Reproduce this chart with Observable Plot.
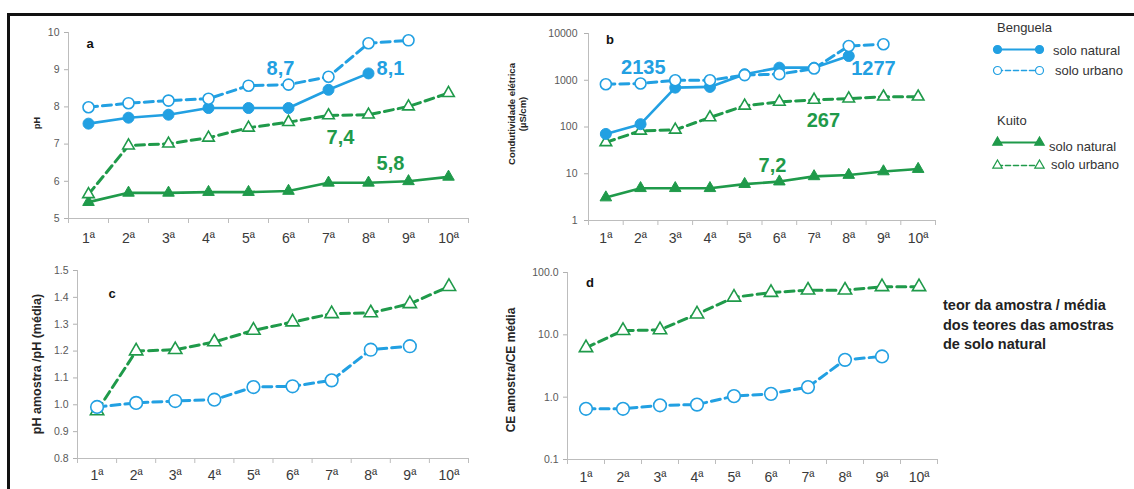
<!DOCTYPE html>
<html><head><meta charset="utf-8">
<script src="https://cdn.jsdelivr.net/npm/d3@7"></script>
<script src="https://cdn.jsdelivr.net/npm/@observablehq/plot@0.6"></script>
<style>
html,body{margin:0;padding:0;background:#fff;}
#root{position:relative;width:1134px;height:489px;overflow:hidden;font-family:"Liberation Sans",Arial,sans-serif;background:#fff;}
.frame{position:absolute;left:7px;top:13px;right:-10px;bottom:-10px;border-top:3px solid #111;border-left:3px solid #111;}
.panel{position:absolute;}
.lbl{position:absolute;transform:translate(-50%,-50%);white-space:nowrap;}
.ltxt{position:absolute;transform:translateY(-50%);white-space:nowrap;font-size:13px;color:#333;}
.rot{position:absolute;transform:translate(-50%,-50%) rotate(-90deg);white-space:nowrap;font-weight:bold;color:#262626;text-align:center;line-height:1.15;}
svg [aria-label^="x-axis"] text{font-size:14px;fill:#3a3a3a;}
svg [aria-label^="y-axis"] text{font-size:10.5px;fill:#595959;}
svg [aria-label^="y-axis"] line, svg [aria-label^="y-axis"] path{stroke:#b0b0b0;}
</style>
</head>
<body>
<div id="root"><div class="frame"></div></div>
<script>
// ---------- data ----------
const categories = ["1ª","2ª","3ª","4ª","5ª","6ª","7ª","8ª","9ª","10ª"];
const phTicks = [5,6,7,8,9,10];
const ecTicks = [1,10,100,1000,10000];
const phRatioTicks = [0.8,0.9,1.0,1.1,1.2,1.3,1.4,1.5];
const ecRatioTicks = [0.1,1,10,100];

// a) pH
const phBenguelaNatural = [7.55,7.71,7.79,7.97,7.97,7.97,8.46,8.90];
const phBenguelaUrbano  = [7.99,8.10,8.17,8.22,8.57,8.60,8.81,9.71,9.79];
const phKuitoNatural    = [5.44,5.69,5.69,5.71,5.71,5.74,5.96,5.96,6.00,6.12];
const phKuitoUrbano     = [5.65,6.96,7.01,7.17,7.44,7.59,7.77,7.79,8.01,8.37];

// b) condutividade elétrica (µS/cm)
const ecBenguelaNatural = [71,115,695,720,1350,1860,1860,3300];
const ecBenguelaUrbano  = [820,850,1000,1000,1290,1350,1780,5400,5900];
const ecKuitoNatural    = [3.1,4.9,4.9,4.9,6.0,6.8,8.8,9.4,11.2,12.6];
const ecKuitoUrbano     = [47,83,87,160,285,345,380,405,445,445];

// c) pH amostra / pH médio solo natural
const phRatioBenguelaUrbano = [0.992,1.007,1.014,1.019,1.066,1.069,1.091,1.205,1.218];
const phRatioKuitoUrbano    = [0.977,1.200,1.205,1.234,1.277,1.308,1.339,1.342,1.376,1.440];

// d) CE amostra / CE média solo natural
const ecRatioBenguelaUrbano = [0.65,0.65,0.74,0.76,1.04,1.13,1.45,3.97,4.5];
const ecRatioKuitoUrbano    = [6.2,11.7,12.0,21.5,40,47.7,52,52,59,59];

// mean annotations (anchored in data units: sample, value)
const phMeansBenguela = [{text:"8,7", sample:5.8, value:9.02},{text:"8,1", sample:8.55, value:9.02}];
const phMeansKuito    = [{text:"7,4", sample:7.3, value:7.18},{text:"5,8", sample:8.55, value:6.48}];
const ecMeansBenguela = [{text:"2135", sample:2.08, value:1870},{text:"1277", sample:8.71, value:1810}];
const ecMeansKuito    = [{text:"267", sample:7.27, value:138},{text:"7,2", sample:5.8, value:15}];

// ---------- styles ----------
const BLUE = "#22a0e2", GREEN = "#1f9a4a", AXIS = "#bdbdbd";
const ST = {
  bn: {color: BLUE,  dash: null,  symbol: "circle",   filled: true,  r: 5.5},
  bu: {color: BLUE,  dash: "9,5", symbol: "circle",   filled: false, r: 5.5},
  kn: {color: GREEN, dash: null,  symbol: "triangle", filled: true,  r: 4.3},
  ku: {color: GREEN, dash: "9,5", symbol: "triangle", filled: false, r: 4.3}
};
const boundaries = d3.range(0.5, 10.6, 1);
const root = document.getElementById("root");

function place(el, left, top) {
  const d = document.createElement("div");
  d.className = "panel";
  d.style.left = left + "px"; d.style.top = top + "px";
  d.appendChild(el); root.appendChild(d);
}
function seriesMarks(values, st, rScale = 1) {
  const data = values.map((v, i) => ({sample: i + 1, value: v}));
  return [
    Plot.line(data, {x: "sample", y: "value", stroke: st.color, strokeWidth: st.dash ? 3 : 2.6, strokeDasharray: st.dash || undefined}),
    Plot.dot(data, {x: "sample", y: "value", symbol: st.symbol, r: st.r * rScale, fill: st.filled ? st.color : "white", stroke: st.color, strokeWidth: st.filled ? 1 : 1.6})
  ];
}
function panel(o) {
  const plotH = o.height - o.mt - o.mb;
  const marks = [
    Plot.ruleY([o.y.domain[0]], {stroke: AXIS}),
    Plot.ruleX([0.5], {stroke: AXIS}),
    Plot.ruleX(boundaries, {stroke: AXIS, insetTop: plotH, insetBottom: -5}),
    ...o.layers.flatMap(([vals, st]) => seriesMarks(vals, st, o.rScale || 1))
  ];
  for (const [notes, color] of (o.notes || [])) {
    marks.push(Plot.text(notes, {x: "sample", y: "value", text: "text", fill: color, fontSize: 20, fontWeight: "bold", fontFamily: "Liberation Sans, Arial, sans-serif"}));
  }
  const svg = Plot.plot({
    width: o.width, height: o.height,
    marginTop: o.mt, marginRight: o.mr, marginBottom: o.mb, marginLeft: o.ml,
    x: {type: "linear", domain: [0.5, 10.5], ticks: d3.range(1, 11), tickFormat: i => categories[i - 1], tickSize: 0, tickPadding: o.xpad, label: null},
    y: Object.assign({label: null, tickSize: 4, tickPadding: 5}, o.y),
    style: {background: "transparent", overflow: "visible", color: "#595959", fontFamily: "Liberation Sans, Arial, sans-serif", fontSize: "10.5px"},
    marks
  });
  place(svg, o.left, o.top);
}

// a
panel({left: 0, top: 0, width: 480, height: 250, mt: 32, mr: 12, mb: 32, ml: 68, xpad: 15,
  y: {type: "linear", domain: [5, 10], ticks: phTicks, tickFormat: d => String(d)},
  layers: [[phKuitoNatural, ST.kn], [phKuitoUrbano, ST.ku], [phBenguelaNatural, ST.bn], [phBenguelaUrbano, ST.bu]],
  notes: [[phMeansBenguela, BLUE], [phMeansKuito, GREEN]]});
// b
panel({left: 480, top: 0, width: 480, height: 250, mt: 33, mr: 25, mb: 30, ml: 108, xpad: 13,
  y: {type: "log", domain: [1, 10000], ticks: ecTicks, tickFormat: d => String(d), tickPadding: 7},
  layers: [[ecKuitoNatural, ST.kn], [ecKuitoUrbano, ST.ku], [ecBenguelaNatural, ST.bn], [ecBenguelaUrbano, ST.bu]],
  notes: [[ecMeansBenguela, BLUE], [ecMeansKuito, GREEN]]});
// c
panel({left: 0, top: 250, width: 480, height: 239, mt: 20, mr: 12, mb: 31, ml: 77, xpad: 12, rScale: 1.15,
  y: {type: "linear", domain: [0.8, 1.5], ticks: phRatioTicks, tickFormat: d => d.toFixed(1)},
  layers: [[phRatioKuitoUrbano, ST.ku], [phRatioBenguelaUrbano, ST.bu]]});
// d
panel({left: 480, top: 250, width: 480, height: 239, mt: 22, mr: 23, mb: 30, ml: 87, xpad: 13, rScale: 1.15,
  y: {type: "log", domain: [0.1, 100], ticks: ecRatioTicks, tickFormat: d => d.toFixed(1)},
  layers: [[ecRatioKuitoUrbano, ST.ku], [ecRatioBenguelaUrbano, ST.bu]]});

// ---------- html text ----------
function label(text, cx, cy, css) {
  const d = document.createElement("div");
  d.className = "lbl"; d.textContent = text;
  d.style.left = cx + "px"; d.style.top = cy + "px";
  Object.assign(d.style, css || {});
  root.appendChild(d);
  return d;
}
function rotated(html, cx, cy, size) {
  const d = document.createElement("div");
  d.className = "rot"; d.innerHTML = html;
  d.style.left = cx + "px"; d.style.top = cy + "px"; d.style.fontSize = size + "px";
  root.appendChild(d);
}
function ltext(text, left, cy, css) {
  const d = document.createElement("div");
  d.className = "ltxt"; d.textContent = text;
  d.style.left = left + "px"; d.style.top = cy + "px";
  Object.assign(d.style, css || {});
  root.appendChild(d);
}
const panelLetter = {fontWeight: "bold", fontSize: "13px", color: "#111"};
label("a", 90, 43, panelLetter);
label("b", 610, 39, panelLetter);
label("c", 112, 293, panelLetter);
label("d", 590, 282, panelLetter);

rotated("pH", 37, 123, 9);
rotated("Condutividade elétrica<br>(µS/cm)", 518, 114, 9.5);
rotated("pH amostra /pH (média)", 37, 364, 12.5);
rotated("CE amostra/CE média", 512, 370, 12);

// legend
ltext("Benguela", 997, 27);
ltext("solo natural", 1053, 50);
ltext("solo urbano", 1055, 70);
ltext("Kuito", 997, 120);
ltext("solo natural", 1049, 146);
ltext("solo urbano", 1051, 164);

function swatch(st, left, cy) {
  const data = [{sample: 0, value: 0}, {sample: 1, value: 0}];
  const svg = Plot.plot({
    width: 58, height: 16, marginTop: 0, marginBottom: 0, marginLeft: 7, marginRight: 9,
    x: {domain: [0, 1], axis: null}, y: {domain: [-1, 1], axis: null},
    style: {background: "transparent", overflow: "visible"},
    marks: [
      Plot.line(data, {x: "sample", y: "value", stroke: st.color, strokeWidth: st.dash ? 1.6 : 2, strokeDasharray: st.dash ? "5,3" : undefined}),
      Plot.dot(data, {x: "sample", y: "value", symbol: st.symbol, r: st.symbol === "circle" ? 4 : 3.5, fill: st.filled ? st.color : "white", stroke: st.color, strokeWidth: 1.2})
    ]
  });
  place(svg, left, cy - 8);
}
swatch(ST.bn, 990, 49);
swatch(ST.bu, 990, 70);
swatch(ST.kn, 990, 142);
swatch(ST.ku, 990, 165);

// note d
const note = document.createElement("div");
note.style.cssText = "position:absolute;left:943px;top:296px;font-weight:bold;font-size:14.5px;line-height:19.5px;color:#222;white-space:nowrap;";
note.innerHTML = "teor da amostra / média<br>dos teores das amostras<br>de solo natural";
root.appendChild(note);
</script>
</body></html>
